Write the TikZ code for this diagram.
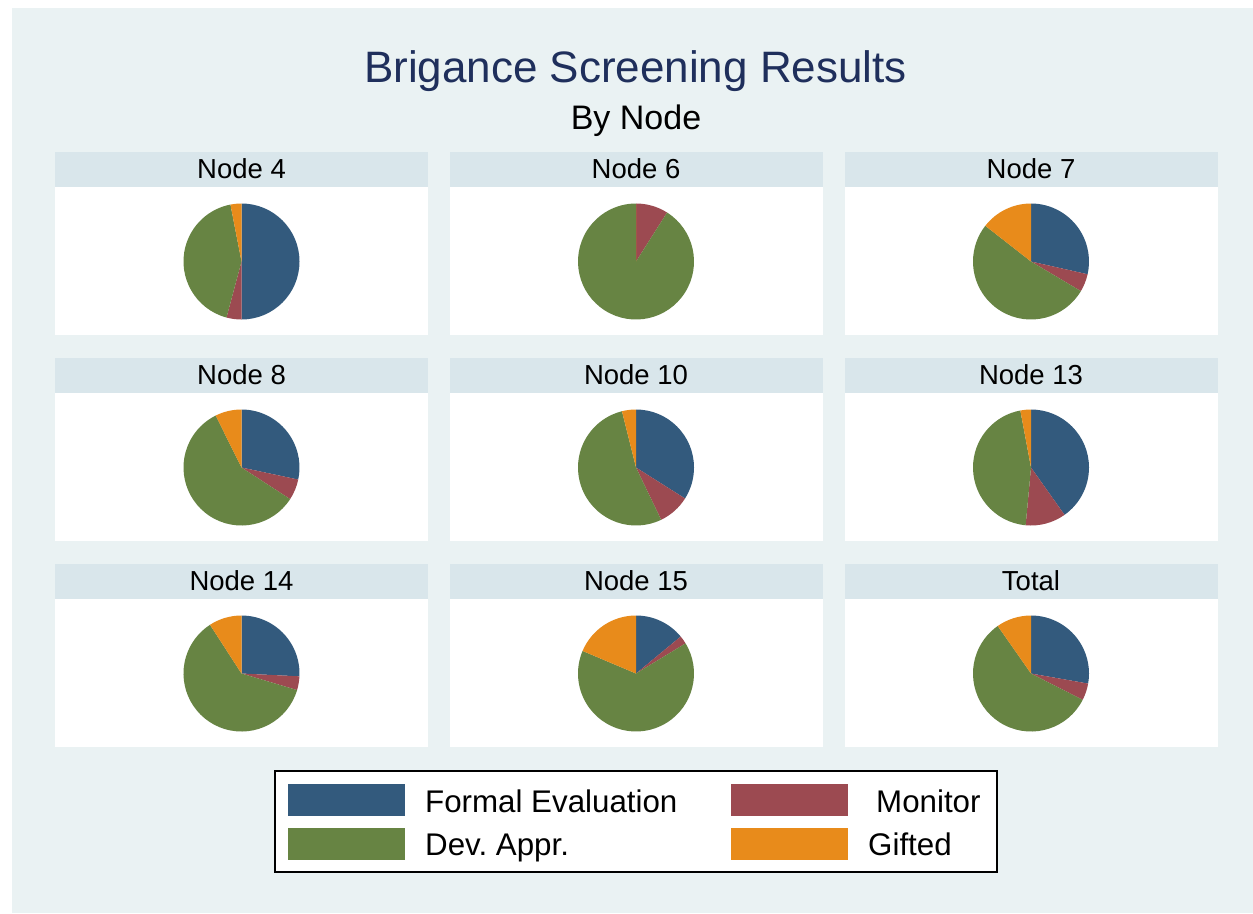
\documentclass[tikz,border=0pt]{standalone}
\usepackage{fontspec}
\setmainfont{Liberation Sans}
\frenchspacing
\definecolor{bgc}{HTML}{EAF2F3}
\definecolor{hdr}{HTML}{D9E6EB}
\definecolor{ttl}{HTML}{1F2F5C}
\definecolor{cB}{HTML}{335A7D}
\definecolor{cR}{HTML}{9C4A51}
\definecolor{cG}{HTML}{678443}
\definecolor{cO}{HTML}{E88B1B}
% #1 name, #2 cx, #3 top, #4 label, #5 blue deg, #6 red deg, #7 green deg
\newcommand\mypanel[7]{%
  \node[hdrbox] (h#1) at (#2,-#3-17.5) {};
  \node[plotbox] (pl#1) at (#2,-#3-109) {};
  \node[hdrtext] (t#1) at (#2,-#3-26) {#4};
  \coordinate (c#1) at (#2,-#3-109.5);
  \pgfmathsetmacro\aOne{90-#5}%
  \pgfmathsetmacro\aTwo{90-#5-#6}%
  \pgfmathsetmacro\aThree{90-#5-#6-#7}%
  \fill[cB] (c#1) -- ++(90:58) arc[start angle=90, end angle=\aOne, radius=58] -- cycle;
  \fill[cR] (c#1) -- ++(\aOne:58) arc[start angle=\aOne, end angle=\aTwo, radius=58] -- cycle;
  \fill[cG] (c#1) -- ++(\aTwo:58) arc[start angle=\aTwo, end angle=\aThree, radius=58] -- cycle;
  \fill[cO] (c#1) -- ++(\aThree:58) arc[start angle=\aThree, end angle=-270, radius=58] -- cycle;
}
\begin{document}
\begin{tikzpicture}[x=1pt,y=1pt,
  hdrbox/.style={fill=hdr, draw=none, minimum width=373pt, minimum height=35pt, inner sep=0pt},
  plotbox/.style={fill=white, draw=none, minimum width=373pt, minimum height=148pt, inner sep=0pt},
  hdrtext/.style={font=\fontsize{27.5}{30}\selectfont, anchor=base, inner sep=0pt},
  swatch/.style={minimum width=117pt, minimum height=32pt, inner sep=0pt, draw=none},
  legtext/.style={font=\fontsize{31.3}{34}\selectfont, anchor=base west, inner sep=0pt}]
\useasboundingbox (0,0) rectangle (1253,-913);
\fill[bgc] (12,-8) rectangle (1253,-913);

\node[anchor=base, inner sep=0pt, text=ttl, font=\fontsize{44}{48}\selectfont] (title) at (635.5,-82) {Brigance Screening Results};
\node[anchor=base, inner sep=0pt, font=\fontsize{34}{38}\selectfont] (subtitle) at (636,-129) {By Node};

\mypanel{4}{241.5}{152}{Node 4}{180}{15}{154}
\mypanel{6}{636}{152}{Node 6}{0}{32.4}{327.6}
\mypanel{7}{1031}{152}{Node 7}{102.7}{18}{187.3}
\mypanel{8}{241.5}{358}{Node 8}{102}{21}{210.6}
\mypanel{10}{636}{358}{Node 10}{122.3}{32}{191.7}
\mypanel{13}{1031}{358}{Node 13}{144.7}{40.6}{164.1}
\mypanel{14}{241.5}{564}{Node 14}{92.8}{13.8}{220.5}
\mypanel{15}{636}{564}{Node 15}{50.4}{8.3}{234.2}
\mypanel{T}{1031}{564}{Total}{100}{17}{208}

\node[draw=black, line width=1.5pt, fill=white, minimum width=722pt, minimum height=101pt, inner sep=0pt] (legend) at (636,-821.5) {};
\node[swatch, fill=cB] (sB) at (346.5,-799.5) {};
\node[swatch, fill=cG] (sG) at (346.5,-843.5) {};
\node[swatch, fill=cR] (sR) at (789.5,-799.5) {};
\node[swatch, fill=cO] (sO) at (789.5,-843.5) {};
\node[legtext] (lB) at (425,-812) {Formal Evaluation};
\node[legtext] (lG) at (425,-855) {Dev. Appr.};
\node[legtext] (lR) at (876,-812) {Monitor};
\node[legtext] (lO) at (868,-855) {Gifted};
\end{tikzpicture}
\end{document}
